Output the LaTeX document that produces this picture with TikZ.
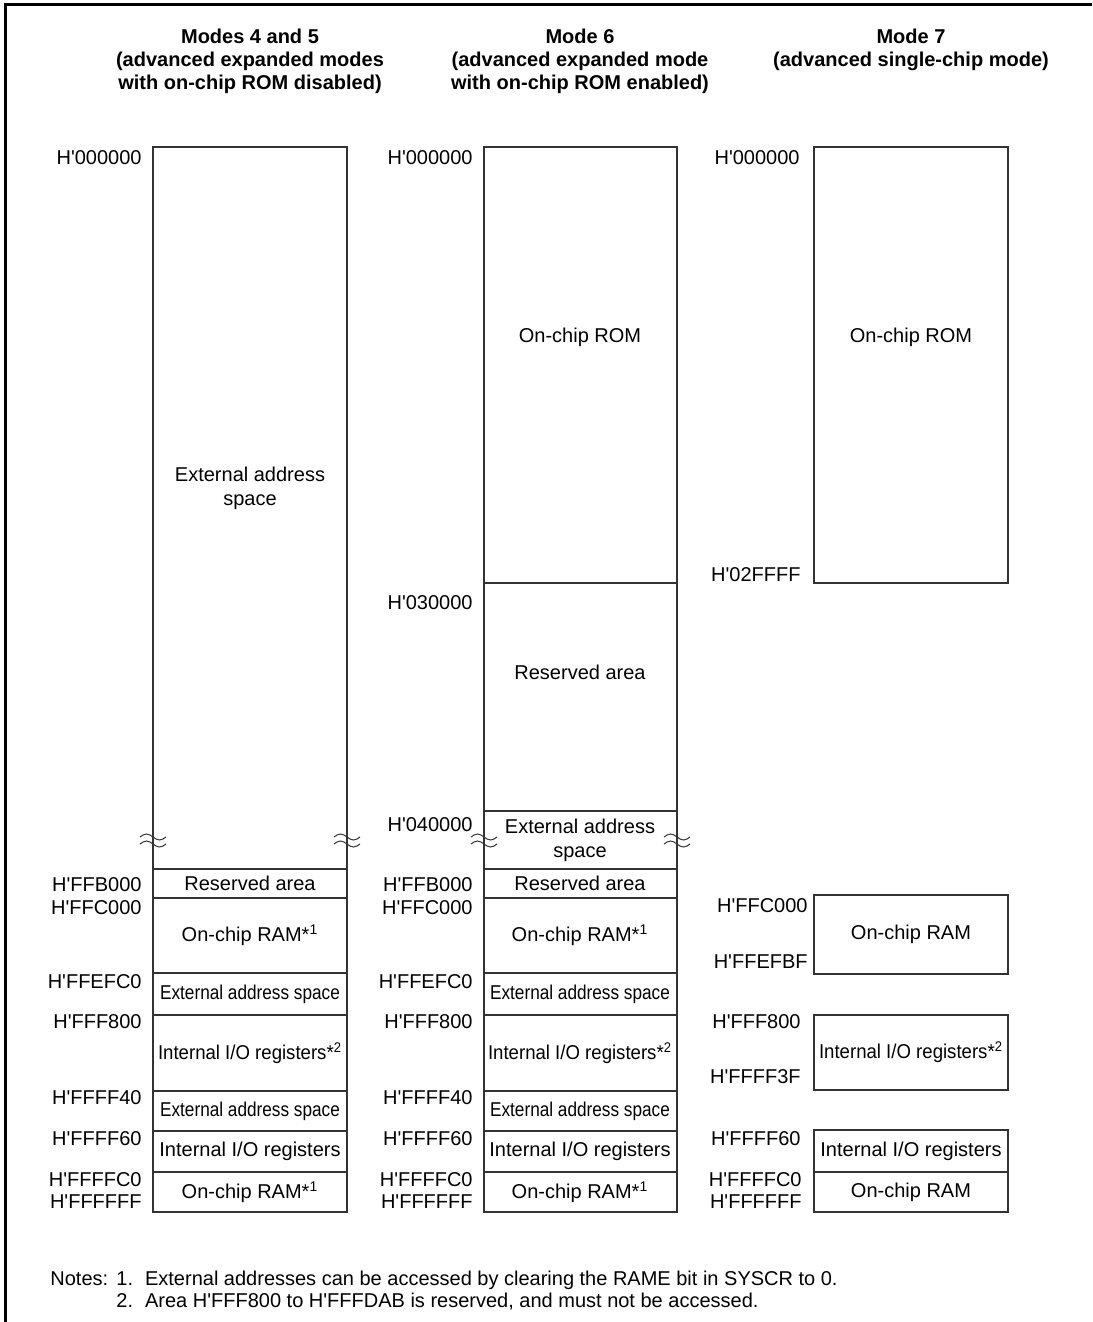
\documentclass[tikz,border=0pt]{standalone}
\usepackage{fontspec}
\setmainfont{Liberation Sans}
\usepackage{graphicx}
\newcommand\hq[1]{H\textquotesingle#1}
\newcommand\squeezed[2][0.86]{\scalebox{#1}[1]{#2}}
\begin{document}
\begin{tikzpicture}[x=0.5pt,y=-0.5pt,
      font=\fontsize{10}{12}\selectfont,
      mapbox/.style={draw=black!80,line width=0.75pt},
      addr/.style={anchor=east,inner sep=0pt},
      body/.style={align=center,inner sep=0pt},
      heading/.style={align=center,anchor=north,inner sep=0pt,font=\fontsize{10}{11.5}\selectfont\bfseries},
      brk/.style={line width=0.5pt,black!80}]
    \useasboundingbox (0,0) rectangle (1092,1322);
    \draw[line width=1.5pt] (5,1322) -- (5,5) -- (1092,5);
    \node[heading] (t1) at (250,29) {Modes 4 and 5\\(advanced expanded modes\\with on-chip ROM disabled)};
    \node[heading] (t2) at (580,29) {Mode 6\\(advanced expanded mode\\with on-chip ROM enabled)};
    \node[heading] (t3) at (911,29) {Mode 7\\(advanced single-chip mode)};
    \draw[mapbox] (153,147) rectangle (347,869);
    \draw[mapbox] (484,147) rectangle (677,583);
    \draw[mapbox] (484,583) rectangle (677,811);
    \draw[mapbox] (484,811) rectangle (677,869);
    \foreach \xa/\xb in {153/347,484/677}
      \foreach \ya/\yb in {869/898,898/973,973/1015,1015/1091,1091/1131,1131/1172,1172/1212}
        \draw[mapbox] (\xa,\ya) rectangle (\xb,\yb);
    \draw[mapbox] (814,147) rectangle (1008,583);
    \draw[mapbox] (814,895) rectangle (1008,974);
    \draw[mapbox] (814,1015) rectangle (1008,1090);
    \draw[mapbox] (814,1130) rectangle (1008,1172);
    \draw[mapbox] (814,1172) rectangle (1008,1212);
    \foreach \bx in {153,347,484,677}
      \foreach \by in {837,844}
        \draw[brk] (\bx-13,\by) sin (\bx-6.5,\by-3) cos (\bx,\by) sin (\bx+6.5,\by+3) cos (\bx+13,\by);
    \node[body] (ext1) at (250,488) {External address\\space};
    \node[body] (rom2) at (580,337) {On-chip ROM};
    \node[body] (res2) at (580,672) {Reserved area};
    \node[body] (ext2) at (580,840) {External address\\space};
    \foreach \cx/\cn in {250/1,580/2} {
      \node[body] (resb\cn) at (\cx,883.5) {Reserved area};
      \node[body] (rama\cn) at (\cx,935.5) {On-chip RAM*\textsuperscript{1}};
      \node[body] (exta\cn) at (\cx,994) {\squeezed{External address space}};
      \node[body] (ioa\cn) at (\cx,1053) {\squeezed[0.93]{Internal I/O registers*\textsuperscript{2}}};
      \node[body] (extb\cn) at (\cx,1111) {\squeezed{External address space}};
      \node[body] (iob\cn) at (\cx,1151.5) {Internal I/O registers};
      \node[body] (ramb\cn) at (\cx,1192) {On-chip RAM*\textsuperscript{1}};
    }
    \node[body] (rom3) at (911,337) {On-chip ROM};
    \node[body] (rama3) at (911,934.5) {On-chip RAM};
    \node[body] (ioa3) at (911,1052.5) {\squeezed[0.93]{Internal I/O registers*\textsuperscript{2}}};
    \node[body] (iob3) at (911,1151) {Internal I/O registers};
    \node[body] (ramb3) at (911,1192) {On-chip RAM};
    \foreach \lab/\yy [count=\i] in {000000/158,FFB000/885,FFC000/908,FFEFC0/982,FFF800/1022,FFFF40/1098,FFFF60/1139,FFFFC0/1180,FFFFFF/1202}
      \node[addr] (la\i) at (142,\yy) {\hq{\lab}};
    \foreach \lab/\yy [count=\i] in {000000/158,030000/603,040000/825,FFB000/885,FFC000/908,FFEFC0/982,FFF800/1022,FFFF40/1098,FFFF60/1139,FFFFC0/1180,FFFFFF/1202}
      \node[addr] (lb\i) at (473,\yy) {\hq{\lab}};
    \foreach \lab/\xx/\yy [count=\i] in {000000/800/158,02FFFF/801/575,FFC000/808/906,FFEFBF/808/962,FFF800/801/1022,FFFF3F/801/1077,FFFF60/801/1139,FFFFC0/802/1180,FFFFFF/802/1202}
      \node[addr] (lc\i) at (\xx,\yy) {\hq{\lab}};
    \node[anchor=base west,inner sep=0pt] (notes) at (50,1285) {Notes:};
    \node[anchor=base west,inner sep=0pt] (note1) at (116,1285) {1.\hspace{0.6em}External addresses can be accessed by clearing the RAME bit in SYSCR to 0.};
    \node[anchor=base west,inner sep=0pt] (note2) at (116,1307) {2.\hspace{0.6em}Area \hq{FFF800} to \hq{FFFDAB} is reserved, and must not be accessed.};
  \end{tikzpicture}
\end{document}
